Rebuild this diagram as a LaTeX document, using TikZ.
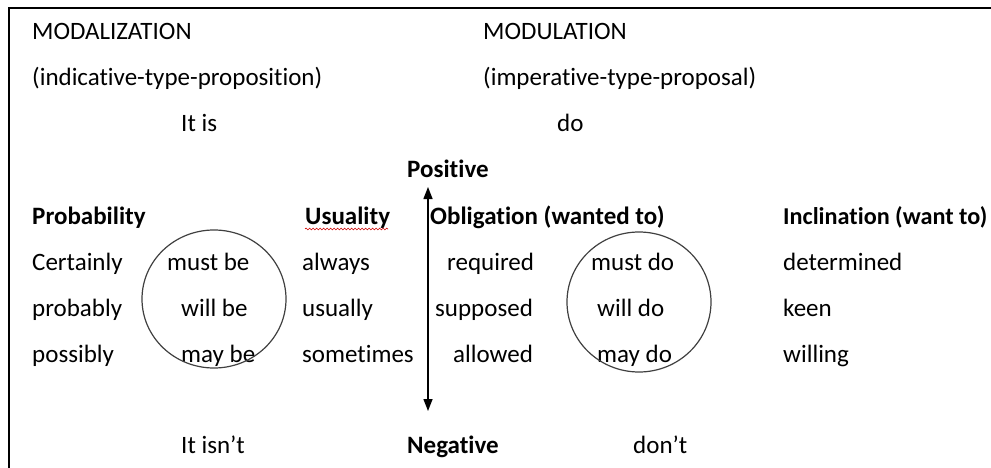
\documentclass[tikz,border=0pt]{standalone}
\usepackage{fontspec}
\setmainfont{Carlito}[Ligatures=NoCommon]
\usetikzlibrary{arrows.meta,decorations.pathmorphing}
\begin{document}
\begin{tikzpicture}[x=1pt,y=-1pt,
  txt/.style={anchor=base west,inner sep=0pt,font=\fontsize{25}{29}\selectfont},
  hdr/.style={txt,font=\fontsize{25}{29}\selectfont\bfseries},
  ring/.style={draw=black!75,line width=1.2pt},
  axis/.style={line width=1.4pt,{Triangle[length=12pt,width=9pt]}-{Triangle[length=12pt,width=9pt]}}]
\useasboundingbox (0,0) rectangle (991,468);
% frame
\draw[line width=2.8pt] (9,470) -- (9,8) -- (995,8);
% top texts
\node[txt] (modal) at (32,40) {MODALIZATION};
\node[txt] (modul) at (483,40) {MODULATION};
\node[txt] (indic) at (32,86) {(indicative-type-proposition)};
\node[txt] (imper) at (483,86) {(imperative-type-proposal)};
\node[txt] (itis) at (181,132) {It is};
\node[txt] (do) at (557,132) {do};
\node[hdr] (pos) at (407,178) {Positive};
% headers
\node[hdr] (prob) at (32,224) {Probability};
\node[hdr] (usu) at (305,224) {Usuality};
\node[hdr] (obl) at (430,224) {Obligation (wanted to)};
\node[hdr,font=\fontsize{24.2}{29}\selectfont\bfseries] (incl) at (783,224) {Inclination (want to)};
% rows
\node[txt] (cert) at (32,270) {Certainly};
\node[txt] (mustbe) at (167,270) {must be};
\node[txt] (always) at (302,270) {always};
\node[txt] (req) at (447,270) {required};
\node[txt] (mustdo) at (591,270) {must do};
\node[txt] (det) at (783,270) {determined};
\node[txt] (probably) at (32,316) {probably};
\node[txt] (willbe) at (181,316) {will be};
\node[txt] (usually) at (302,316) {usually};
\node[txt] (supp) at (435,316) {supposed};
\node[txt] (willdo) at (597,316) {will do};
\node[txt] (keen) at (783,316) {keen};
\node[txt] (possibly) at (32,362) {possibly};
\node[txt] (maybe) at (181,362) {may be};
\node[txt] (sometimes) at (302,362) {sometimes};
\node[txt] (allowed) at (453,362) {allowed};
\node[txt] (maydo) at (597,362) {may do};
\node[txt] (willing) at (783,362) {willing};
% bottom
\node[txt] (isnt) at (181,453) {It isn’t};
\node[hdr] (neg) at (407,453) {Negative};
\node[txt] (dont) at (633,453) {don’t};
% circles
\draw[ring] (214,299) ellipse [x radius=72, y radius=69];
\draw[ring] (639,302) ellipse [x radius=72, y radius=70];
% axis
\coordinate (atop) at (428,187);
\coordinate (abot) at (428,411);
\draw[axis] (abot) -- (atop);
% spell-check underline
\coordinate (wl) at (305,229);
\coordinate (wr) at (388,229);
\draw[red!80!black,line width=0.6pt,decorate,decoration={snake,amplitude=0.9pt,segment length=3.5pt}] (wl) -- (wr);
\end{tikzpicture}
\end{document}
